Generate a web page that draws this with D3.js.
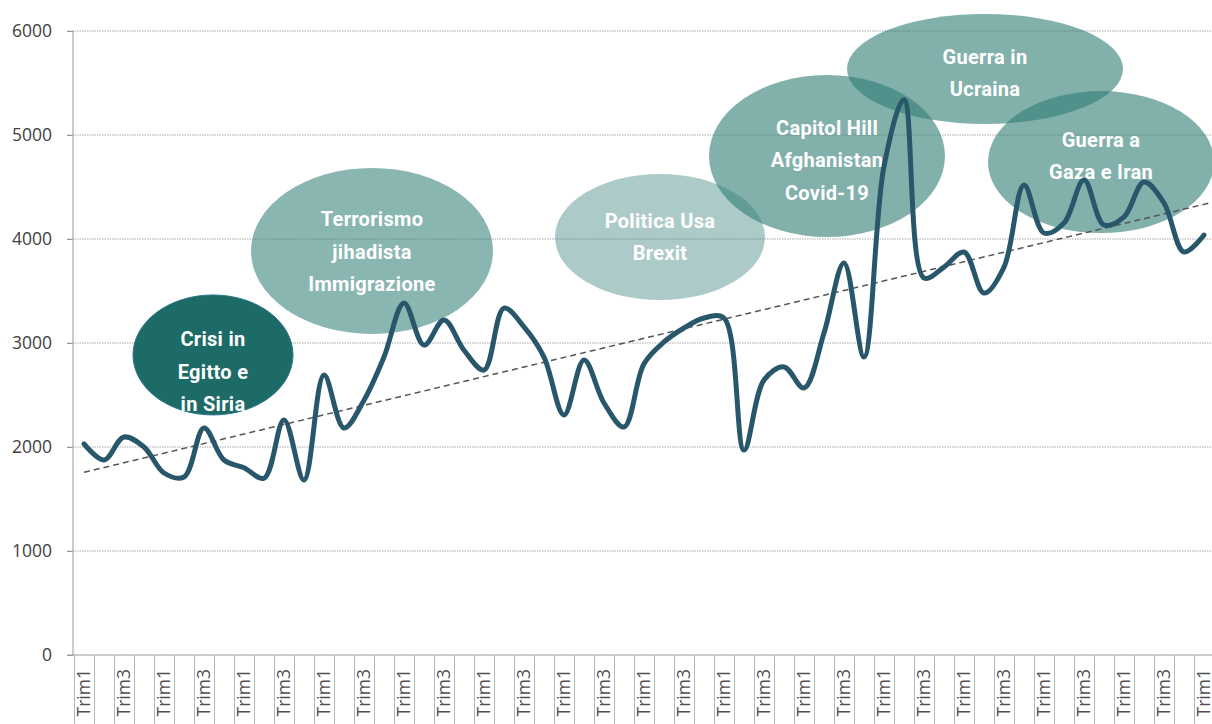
<!DOCTYPE html>
<html>
<head>
<meta charset="utf-8">
<script src="https://cdn.jsdelivr.net/npm/d3@7"></script>
<style>
  body { margin: 0; background: #fff; }
  svg { display: block; }
</style>
</head>
<body>
<script>
// quarter names, only odd ones get a label (Excel skips every other)
const quarterNames = ["Trim1", "Trim2", "Trim3", "Trim4"];

// quarterly values
const values = [
  2030, 1875, 2096, 2000, 1750, 1711, 2183, 1875, 1800, 1700,
  2260, 1683, 2692, 2183, 2450, 2865, 3385, 2980, 3220, 2930,
  2740, 3335, 3155, 2865, 2308, 2836, 2423, 2192, 2800, 3010,
  3144, 3240, 3240, 1970, 2644, 2770, 2567, 3096, 3770, 2865,
  4700, 5340, 3625, 3730, 3875, 3480, 3730, 4520, 4058, 4154,
  4567, 4135, 4212, 4548, 4346, 3875, 4038
];

const yTicks = [0, 1000, 2000, 3000, 4000, 5000, 6000];

// event bubbles: centre in data space (quarter index, value)
const events = [
  { lines: ["Crisi in", "Egitto e", "in Siria"], q: 6.45, v: 2885, rx: 80, ry: 60, op: 1, ty: 17, dark: true },
  { lines: ["Terrorismo", "jihadista", "Immigrazione"], q: 14.4, v: 3885, rx: 121, ry: 83, op: 0.56, ty: 1 },
  { lines: ["Politica Usa", "Brexit"], q: 28.8, v: 4019, rx: 105, ry: 63, op: 0.4, ty: 0 },
  { lines: ["Capitol Hill", "Afghanistan", "Covid-19"], q: 37.15, v: 4798, rx: 118, ry: 81, op: 0.6, ty: 4 },
  { lines: ["Guerra in", "Ucraina"], q: 45.05, v: 5635, rx: 138, ry: 55, op: 0.6, ty: 4 },
  { lines: ["Guerra a", "Gaza e Iran"], q: 50.85, v: 4740, rx: 113, ry: 71, op: 0.6, ty: -6 }
];

const W = 1212, H = 724;
const left = 74, bandW = 20;

let idx = d3.range(values.length);

let x = d3.scaleBand()
  .domain(idx)
  .range([left, left + bandW * values.length]);

// centre of a (possibly fractional) quarter index
let xc = q => left + bandW * (q + 0.5);

let y = d3.scaleLinear()
  .domain([0, 6000])
  .range([655, 31]);

let svg = d3.select("body")
  .append("svg")
  .attr("width", W)
  .attr("height", H);

// gridlines
svg.append("g")
  .selectAll("line")
  .data(yTicks.filter(d => d > 0))
  .enter()
  .append("line")
  .attr("x1", left - 7)
  .attr("x2", W)
  .attr("y1", d => y(d))
  .attr("y2", d => y(d))
  .attr("stroke", "#a9a9a9")
  .attr("stroke-width", 1)
  .attr("stroke-dasharray", "1.5,1");

// y axis
let yAxis = svg.append("g")
  .attr("transform", `translate(${left - 1},0)`)
  .call(d3.axisLeft(y).tickValues(yTicks).tickSize(6).tickFormat(d3.format("d")));
yAxis.select(".domain").attr("stroke", "#9a9a9a").attr("d", `M0,${y(6000)}V${y(0)}`);
yAxis.selectAll(".tick line").attr("stroke", "#9a9a9a");
yAxis.selectAll("text")
  .attr("x", -21)
  .style("font-family", "'Open Sans', sans-serif")
  .style("font-size", "17.5px")
  .attr("fill", "#404040");

// x axis baseline
svg.append("line")
  .attr("x1", left - 7)
  .attr("x2", W)
  .attr("y1", y(0))
  .attr("y2", y(0))
  .attr("stroke", "#9a9a9a");

// category separators below the axis
svg.append("g")
  .selectAll("line")
  .data(idx.concat([values.length]))
  .enter()
  .append("line")
  .attr("x1", d => left + d * bandW + 0.5)
  .attr("x2", d => left + d * bandW + 0.5)
  .attr("y1", y(0))
  .attr("y2", H)
  .attr("stroke", "#b5b5b5");

// category labels (every other one)
svg.append("g")
  .selectAll("text")
  .data(idx.filter(i => i % 2 === 0))
  .enter()
  .append("text")
  .attr("transform", i => `translate(${x(i) + x.bandwidth() / 2},669) rotate(-90)`)
  .attr("text-anchor", "end")
  .attr("dy", "0.36em")
  .style("font-family", "'Open Sans', sans-serif")
  .style("font-size", "17.5px")
  .attr("fill", "#505050")
  .text(i => quarterNames[i % 4]);

// bubbles
let bubbles = svg.append("g");
bubbles.selectAll("ellipse")
  .data(events)
  .enter()
  .append("ellipse")
  .attr("cx", d => xc(d.q))
  .attr("cy", d => y(d.v))
  .attr("rx", d => d.rx)
  .attr("ry", d => d.ry)
  .attr("fill", d => d.dark ? "#1c6b66" : "#2f7d75")
  .attr("fill-opacity", d => d.op)
  .attr("stroke", d => d.dark ? "#2b7690" : "none")
  .attr("stroke-width", 1);

// trend line (least squares)
let mx = d3.mean(idx), my = d3.mean(values);
let slope = d3.sum(idx, i => (i - mx) * (values[i] - my)) / d3.sum(idx, i => (i - mx) * (i - mx));
let icpt = my - slope * mx;
let trendEnds = [0, values.length - 0.4];

svg.append("line")
  .attr("x1", xc(trendEnds[0]))
  .attr("x2", xc(trendEnds[1]))
  .attr("y1", y(icpt + slope * trendEnds[0]))
  .attr("y2", y(icpt + slope * trendEnds[1]))
  .attr("stroke", "#555")
  .attr("stroke-width", 1.5)
  .attr("stroke-dasharray", "6,4");

// bubble labels
bubbles.selectAll("text")
  .data(events)
  .enter()
  .append("text")
  .attr("text-anchor", "middle")
  .style("font-family", "Roboto, sans-serif")
  .style("font-weight", "700")
  .style("font-size", "20px")
  .style("letter-spacing", "0.3px")
  .attr("fill", "#fff")
  .each(function(d) {
    let n = d.lines.length;
    d3.select(this)
      .selectAll("tspan")
      .data(d.lines)
      .enter()
      .append("tspan")
      .attr("x", xc(d.q))
      .attr("y", (l, k) => y(d.v) + d.ty + (k - (n - 1) / 2) * 32.5)
      .attr("dy", "0.35em")
      .text(l => l);
  });

// main series
let line = d3.line()
  .x((d, i) => x(i) + x.bandwidth() / 2)
  .y(d => y(d))
  .curve(d3.curveCatmullRom.alpha(0.5));

svg.append("path")
  .datum(values)
  .attr("d", line)
  .attr("fill", "none")
  .attr("stroke", "#28566a")
  .attr("stroke-width", 5)
  .attr("stroke-linejoin", "round")
  .attr("stroke-linecap", "round");
</script>
</body>
</html>
